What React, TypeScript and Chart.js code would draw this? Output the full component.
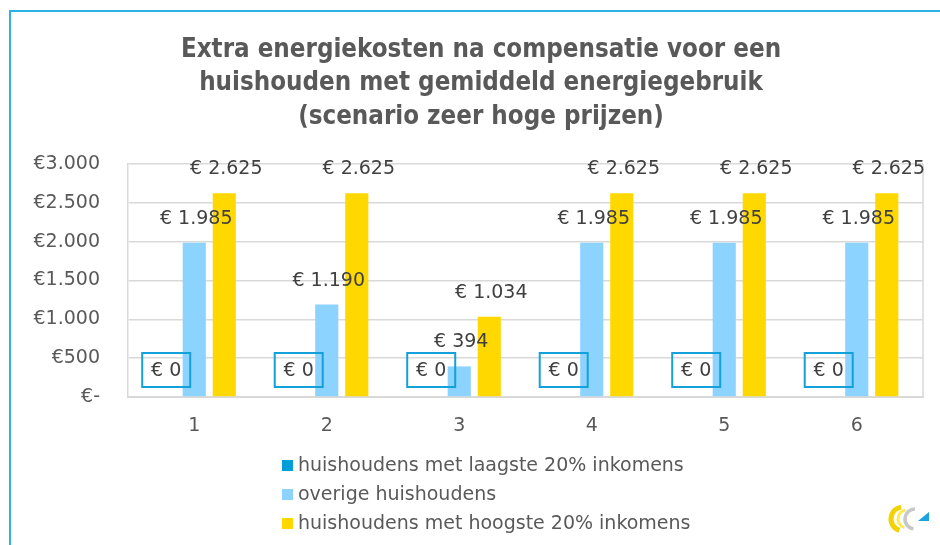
import React, { useEffect, useRef } from "react";
import { Chart, registerables } from "chart.js";

Chart.register(...registerables);

const titleLines = [
  "Extra energiekosten na compensatie voor een",
  "huishouden met gemiddeld energiegebruik",
  "(scenario zeer hoge prijzen)",
];
const categories = ["1", "2", "3", "4", "5", "6"];
const seriesLabels = [
  "huishoudens met laagste 20% inkomens",
  "overige huishoudens",
  "huishoudens met hoogste 20% inkomens",
];
const lowestValues = [0, 0, 0, 0, 0, 0];
const otherValues = [1985, 1190, 394, 1985, 1985, 1985];
const highestValues = [2625, 2625, 1034, 2625, 2625, 2625];
const yTickLabels = ["€-", "€500", "€1.000", "€1.500", "€2.000", "€2.500", "€3.000"];

const COLORS = ["#009FDA", "#8DD3FF", "#FFD800"];
const FONT = "'DejaVu Sans', sans-serif";
const TITLE_FONT = "'DejaVu Sans Condensed', 'DejaVu Sans', sans-serif";
const TEXT = "#595959";
const LABEL = "#404040";

function fmt(v: number): string {
  const s = Math.round(v).toString().replace(/\B(?=(\d{3})+(?!\d))/g, ".");
  return "€ " + s;
}

const decorPlugin = {
  id: "decor",
  beforeDraw(chart: any) {
    const { ctx } = chart;
    ctx.save();
    ctx.fillStyle = "#ffffff";
    ctx.fillRect(0, 0, chart.width, chart.height);
    // frame
    ctx.strokeStyle = "#2BB3E6";
    ctx.lineWidth = 2;
    ctx.beginPath();
    ctx.moveTo(10, 546);
    ctx.lineTo(10, 11);
    ctx.lineTo(942, 11);
    ctx.stroke();
    // title
    ctx.fillStyle = TEXT;
    ctx.font = "bold 25.7px " + TITLE_FONT;
    ctx.textAlign = "center";
    ctx.textBaseline = "middle";
    titleLines.forEach((t, i) => ctx.fillText(t, 481, 50 + i * 33.5));
    ctx.restore();
  },
  afterDatasetsDraw(chart: any) {
    const { ctx, chartArea } = chart;
    ctx.save();
    // plot box right edge
    ctx.strokeStyle = "#D9D9D9";
    ctx.lineWidth = 1.5;
    ctx.beginPath();
    ctx.moveTo(chartArea.right, chartArea.top);
    ctx.lineTo(chartArea.right, chartArea.bottom);
    ctx.stroke();
    // data labels
    ctx.font = "19px " + FONT;
    ctx.textAlign = "center";
    ctx.textBaseline = "middle";
    chart.data.datasets.forEach((ds: any, di: number) => {
      const meta = chart.getDatasetMeta(di);
      meta.data.forEach((bar: any, i: number) => {
        const v = ds.data[i];
        const text = fmt(v);
        const x = bar.x + 2;
        if (di === 0) {
          const cy = bar.y - 27;
          ctx.strokeStyle = "#14A0D8";
          ctx.lineWidth = 2;
          ctx.strokeRect(x - 24, cy - 17, 48, 34);
          ctx.fillStyle = LABEL;
          ctx.fillText(text, x, cy + 1);
        } else {
          ctx.fillStyle = LABEL;
          ctx.fillText(text, x, bar.y - 24);
        }
      });
    });
    // legend
    ctx.textAlign = "left";
    ctx.font = "19px " + FONT;
    chart.data.datasets.forEach((ds: any, di: number) => {
      const y = 465 + di * 29;
      ctx.fillStyle = ds.backgroundColor;
      ctx.fillRect(282, y - 5, 11, 11);
      ctx.fillStyle = TEXT;
      ctx.fillText(ds.label, 298, y + 1);
    });
    // logo
    ctx.lineCap = "butt";
    ctx.strokeStyle = "#F2D200";
    ctx.lineWidth = 5;
    ctx.beginPath();
    ctx.arc(903, 519, 12, Math.PI * 0.6, Math.PI * 1.45);
    ctx.stroke();
    ctx.strokeStyle = "#FFEA55";
    ctx.lineWidth = 3;
    ctx.beginPath();
    ctx.arc(907, 519, 9, Math.PI * 0.6, Math.PI * 1.45);
    ctx.stroke();
    ctx.strokeStyle = "#C8C8C8";
    ctx.lineWidth = 3.5;
    ctx.beginPath();
    ctx.arc(915, 519, 10, Math.PI * 0.55, Math.PI * 1.5);
    ctx.stroke();
    ctx.fillStyle = "#1BA3E0";
    ctx.beginPath();
    ctx.moveTo(918, 521);
    ctx.lineTo(929, 521);
    ctx.lineTo(929, 512);
    ctx.closePath();
    ctx.fill();
    ctx.restore();
  },
};

export default function App() {
  const ref = useRef<HTMLCanvasElement | null>(null);
  useEffect(() => {
    if (!ref.current) return;
    const chart = new Chart(ref.current, {
      type: "bar",
      data: {
        labels: categories,
        datasets: [
          { label: seriesLabels[0], data: lowestValues, backgroundColor: COLORS[0] },
          { label: seriesLabels[1], data: otherValues, backgroundColor: COLORS[1] },
          { label: seriesLabels[2], data: highestValues, backgroundColor: COLORS[2] },
        ],
      },
      options: {
        animation: false,
        responsive: false,
        devicePixelRatio: 1,
        layout: { padding: { left: 0, right: 17, top: 164, bottom: 98 } },
        datasets: { bar: { categoryPercentage: 0.68, barPercentage: 0.77 } },
        plugins: { legend: { display: false }, title: { display: false }, tooltip: { enabled: false } },
        scales: {
          x: {
            grid: { display: false },
            border: { display: true, color: "#D9D9D9", width: 2 },
            ticks: { color: TEXT, font: { family: FONT, size: 19 }, padding: 10 },
            afterFit: (s: any) => { s.height = 50; },
          },
          y: {
            min: 0,
            max: 3000,
            grid: { color: "#D9D9D9", lineWidth: 1.5, drawTicks: false },
            border: { display: true, color: "#D9D9D9", width: 1.5 },
            ticks: {
              stepSize: 500,
              color: TEXT,
              font: { family: FONT, size: 19 },
              padding: 28,
              callback: (_v: any, i: number) => yTickLabels[i],
            },
            afterFit: (s: any) => { s.width = 128; },
          },
        },
      },
      plugins: [decorPlugin],
    } as any);
    return () => chart.destroy();
  }, []);
  return (
    <div style={{ position: "absolute", left: 0, top: 0, width: 940, height: 545 }}>
      <canvas ref={ref} width={940} height={545} />
    </div>
  );
}
